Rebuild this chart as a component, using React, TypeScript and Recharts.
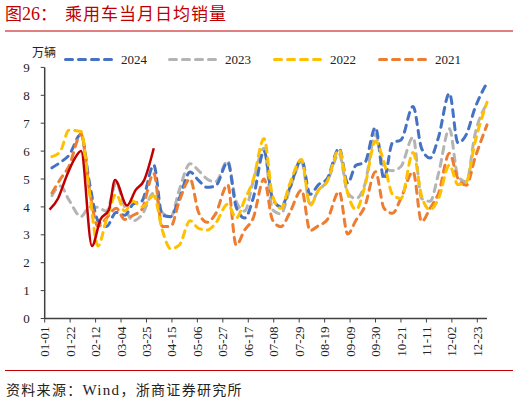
import React from 'react';
import { LineChart, Line, XAxis, YAxis } from 'recharts';

// X-axis tick labels (2024 calendar positions)
const tickDates = ['01-01', '01-22', '02-12', '03-04', '03-25', '04-15', '05-06', '05-27', '06-17', '07-08', '07-29', '08-19', '09-09', '09-30', '10-21', '11-11', '12-02', '12-23'];
const yTicks = [0, 1, 2, 3, 4, 5, 6, 7, 8, 9];

// weekly observation dates (month-to-date daily average)
const weekDates = [
  '01-07', '01-14', '01-21', '01-31', '02-07', '02-14', '02-21', '02-29',
  '03-07', '03-14', '03-21', '03-31', '04-07', '04-14', '04-21', '04-30',
  '05-07', '05-14', '05-21', '05-31', '06-07', '06-14', '06-21', '06-30',
  '07-07', '07-14', '07-21', '07-31', '08-07', '08-14', '08-21', '08-31',
  '09-07', '09-14', '09-21', '09-30', '10-07', '10-14', '10-21', '10-31',
  '11-07', '11-14', '11-21', '11-30', '12-07', '12-14', '12-21', '12-31',
];

const sales2024 = [
  5.4, 5.6, 5.85, 6.6, 4.85, 3.5, 3.3, 3.8,
  3.7, 4.1, 4.2, 5.5, 3.7, 3.65, 4.3, 5.25,
  4.95, 4.7, 4.75, 5.6, 4.0, 3.6, 4.3, 6.0,
  4.3, 4.0, 4.65, 5.7, 4.45, 4.8, 5.0, 6.1,
  4.85, 5.5, 5.58, 6.85, 5.0, 6.3, 6.4, 7.6,
  6.1, 5.75, 6.5, 8.07, 6.3, 6.6, 7.53, 8.45,
];
const sales2023 = [
  4.4, 4.75, 4.25, 3.65, 4.0, 3.98, 3.85, 4.85,
  4.0, 3.5, 3.7, 4.5, 3.8, 3.65, 4.6, 5.55,
  5.3, 5.0, 4.9, 5.65, 4.2, 3.85, 4.9, 6.1,
  3.9, 3.75, 4.6, 5.6, 4.1, 4.6, 4.9, 5.9,
  4.5, 4.3, 4.78, 6.6, 5.4, 5.3, 5.45, 6.5,
  4.3, 4.2, 5.2, 6.8, 5.1, 4.9, 6.58, 7.7,
];
const sales2022 = [
  5.8, 6.0, 6.75, 6.7, 4.5, 2.6, 3.55, 4.45,
  3.85, 4.2, 4.0, 4.4, 3.17, 2.5, 2.63, 3.5,
  3.23, 3.17, 3.41, 4.1, 3.6, 4.25, 4.96, 6.45,
  4.4, 3.95, 4.8, 5.7, 4.05, 4.6, 4.9, 6.05,
  4.5, 3.9, 4.7, 6.35, 5.6, 4.45, 4.3, 5.95,
  4.4, 3.9, 4.3, 5.5, 4.8, 4.9, 6.3, 7.75,
];
const sales2021 = [
  4.5, 5.0, 5.45, 6.6, 4.6, 3.3, 3.6, 3.95,
  3.55, 3.7, 3.9, 5.2, 3.3, 3.3, 4.2, 5.0,
  3.8, 3.45, 3.75, 4.8, 2.63, 3.17, 3.59, 5.0,
  3.53, 3.29, 3.77, 4.6, 3.15, 3.33, 3.53, 4.55,
  3.03, 3.53, 4.0, 5.26, 3.95, 3.77, 4.31, 5.26,
  3.47, 3.95, 4.49, 5.92, 5.02, 4.78, 5.74, 6.94,
];

const dates2025 = ['01-05', '01-12', '01-19', '01-26', '01-31', '02-09', '02-16', '02-23', '02-28', '03-09', '03-16', '03-23', '03-31'];
const sales2025 = [3.9, 4.3, 5.1, 5.75, 6.0, 2.6, 3.55, 3.9, 4.96, 4.05, 4.6, 4.95, 6.1];

const dayOf = (s: string) => {
  const [m, d] = s.split('-').map(Number);
  return (Date.UTC(2024, m - 1, d) - Date.UTC(2024, 0, 1)) / 86400000;
};

const xTicks = tickDates.map(dayOf);
const labelByDay: Record<number, string> = {};
tickDates.forEach((t) => { labelByDay[dayOf(t)] = t; });

const rowMap: Record<number, any> = {};
const row = (d: number) => (rowMap[d] = rowMap[d] || { d });
weekDates.forEach((w, i) => {
  const r = row(dayOf(w));
  r.y2024 = sales2024[i];
  r.y2023 = sales2023[i];
  r.y2022 = sales2022[i];
  r.y2021 = sales2021[i];
});
dates2025.forEach((w, i) => { row(dayOf(w)).y2025 = sales2025[i]; });
const data = Object.values(rowMap).sort((a: any, b: any) => a.d - b.d);

const SERIF = '"Liberation Serif", "Times New Roman", serif';
const CJK = '"Noto Sans CJK SC", sans-serif';
const AXIS = '#404040';
const DASH = '7 6';

const XTick = (props: any) => {
  const { x, y, payload } = props;
  return (
    <text x={x} y={y} transform={`rotate(-90, ${x}, ${y})`} textAnchor="end" dy="0.35em"
      fontSize={13} fontFamily={SERIF} fill="#222">
      {labelByDay[payload.value]}
    </text>
  );
};

const legendItems = [
  { name: '2024', color: '#4472C4', x: 64 },
  { name: '2023', color: '#B4B4B4', x: 168 },
  { name: '2022', color: '#FFC000', x: 273 },
  { name: '2021', color: '#ED7D31', x: 378 },
];

export default function App() {
  return (
    <div style={{ position: 'fixed', left: 0, top: 0, width: 520, height: 402, background: '#fff' }}>
      <LineChart width={520} height={402} data={data}
        margin={{ top: 67.4, right: 33, bottom: 39.5, left: 4.7 }}>
        <XAxis dataKey="d" type="number" domain={[0, 365]} ticks={xTicks} interval={0}
          tick={<XTick />} tickSize={4} tickMargin={4} height={44}
          axisLine={{ stroke: AXIS, strokeWidth: 1.5 }} tickLine={{ stroke: AXIS }} />
        <YAxis type="number" domain={[0, 9]} ticks={yTicks} interval={0} width={40}
          tickSize={4} tickMargin={11}
          tick={{ fontSize: 13, fontFamily: SERIF, fill: '#222' }}
          axisLine={{ stroke: AXIS, strokeWidth: 1.5 }} tickLine={{ stroke: AXIS }} />
        <Line dataKey="y2023" type="monotone" stroke="#B4B4B4" strokeWidth={3} strokeDasharray={DASH}
          strokeLinecap="round" dot={false} connectNulls isAnimationActive={false} />
        <Line dataKey="y2024" type="monotone" stroke="#4472C4" strokeWidth={3} strokeDasharray={DASH}
          strokeLinecap="round" dot={false} connectNulls isAnimationActive={false} />
        <Line dataKey="y2021" type="monotone" stroke="#ED7D31" strokeWidth={3} strokeDasharray={DASH}
          strokeLinecap="round" dot={false} connectNulls isAnimationActive={false} />
        <Line dataKey="y2022" type="monotone" stroke="#FFC000" strokeWidth={3} strokeDasharray={DASH}
          strokeLinecap="round" dot={false} connectNulls isAnimationActive={false} />
        <Line dataKey="y2025" type="monotone" stroke="#C00000" strokeWidth={2.5}
          dot={false} connectNulls isAnimationActive={false} />
      </LineChart>
      <svg width={520} height={402} style={{ position: 'absolute', left: 0, top: 0, pointerEvents: 'none' }}>
        <text x={5} y={20} fontSize={17} fill="#C00000" fontFamily={CJK}>
          图<tspan fontFamily={SERIF} fontSize={18}>26</tspan>：
        </text>
        <text x={65} y={20} fontSize={17} fill="#C00000" fontFamily={CJK} letterSpacing={1}>乘用车当月日均销量</text>
        <line x1={5} x2={513} y1={31} y2={31} stroke="#C00000" strokeWidth={1} />
        <text x={32} y={57} fontSize={12} fill="#222" fontFamily={CJK}>万辆</text>
        {legendItems.map((it) => (
          <g key={it.name}>
            <line x1={it.x + 1.5} x2={it.x + 51} y1={59.5} y2={59.5} stroke={it.color} strokeWidth={3}
              strokeDasharray={DASH} strokeLinecap="round" />
            <text x={it.x + 57} y={64} fontSize={13} fontFamily={SERIF} fill="#222">{it.name}</text>
          </g>
        ))}
        <line x1={5} x2={513} y1={370.5} y2={370.5} stroke="#C00000" strokeWidth={1} />
        <text x={6} y={395} fontSize={14} fill="#222" fontFamily={CJK} letterSpacing={1.3}>
          资料来源：<tspan fontFamily={SERIF} fontSize={15}>Wind</tspan>，浙商证券研究所
        </text>
      </svg>
    </div>
  );
}
